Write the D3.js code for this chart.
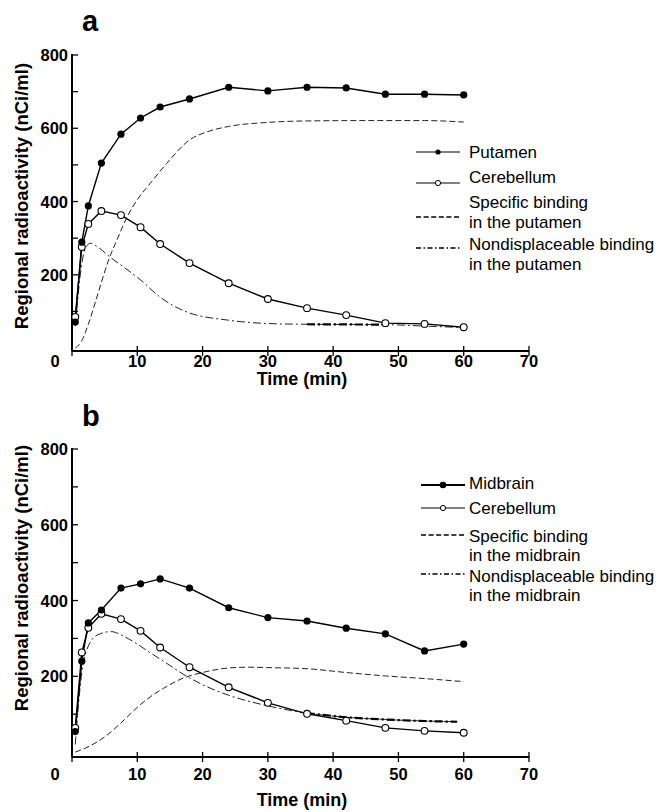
<!DOCTYPE html>
<html>
<head>
<meta charset="utf-8">
<script src="https://cdn.jsdelivr.net/npm/d3@7"></script>
<style>
  body { margin: 0; background: #fff; }
  svg { display: block; font-family: "Liberation Sans", Arial, sans-serif; }
</style>
</head>
<body>
<div id="chart"></div>
<script>
// sampling times (min) of the measured curves
var times = [0.5, 1.5, 2.5, 4.5, 7.5, 10.5, 13.5, 18, 24, 30, 36, 42, 48, 54, 60];

// panel a
var putamen     = [71, 289, 388, 505, 584, 628, 658, 680, 712, 702, 712, 710, 693, 693, 691];
var cerebellumA = [85, 276, 339, 374, 363, 330, 284, 232, 177, 134, 109, 90, 68, 66, 57];
var specATimes  = [0.5, 1.5, 2.5, 4, 5.5, 7, 8.5, 10, 12, 14.5, 18, 21, 24, 30, 36, 45, 54, 60];
var specA       = [0, 20, 65, 150, 235, 300, 360, 405, 450, 504, 568, 592, 605, 616, 620, 621, 621, 617];
var nondATimes  = [0.5, 1.5, 2, 2.8, 4, 6, 8, 10.5, 13.5, 17.5, 24, 30, 36, 48, 54, 60];
var nondA       = [60, 230, 270, 286, 275, 246, 220, 186, 139, 99, 76, 67, 65, 64, 60, 56];

// panel b
var midbrain    = [54, 240, 341, 375, 433, 444, 457, 433, 381, 355, 346, 327, 312, 267, 285];
var cerebellumB = [64, 263, 328, 365, 351, 320, 276, 224, 171, 130, 101, 83, 64, 56, 51];
var specBTimes  = [0.5, 2, 5, 8, 10, 12, 14, 17, 20, 24, 27, 30, 36, 42, 48, 54, 60];
var specB       = [0, 10, 40, 85, 118, 146, 168, 195, 210, 222, 224, 223, 220, 210, 201, 194, 186];
var nondBTimes  = [0.5, 1.5, 2.5, 4, 6, 8, 10, 12, 14, 17, 20, 24, 30, 36, 42, 48, 54, 59];
var nondB       = [20, 210, 280, 310, 318, 305, 285, 262, 240, 206, 178, 150, 122, 103, 92, 86, 82, 80];

var xTicks = [0, 10, 20, 30, 40, 50, 60, 70];
var yTicks = [100, 200, 300, 400, 500, 600, 700, 800];
var yLabels = [200, 400, 600, 800];

var legendA = ["Putamen", "Cerebellum", "Specific binding|in the putamen", "Nondisplaceable binding|in the putamen"];
var legendB = ["Midbrain", "Cerebellum", "Specific binding|in the midbrain", "Nondisplaceable binding|in the midbrain"];

var svg = d3.select("#chart").append("svg")
  .attr("width", 665)
  .attr("height", 812);

function zip(t, v) { return t.map(function(d, i) { return [d, v[i]]; }); }

function drawPanel(p) {
  var g = svg.append("g");
  var x = d3.scaleLinear().domain([0, 70]).range([72, 529]);
  var y = d3.scaleLinear().domain([p.yMin, 800]).range([p.bottom, p.top]);

  // panel letter
  g.append("text").attr("x", 82).attr("y", p.letterY)
    .style("font-size", "29px").style("font-weight", "bold").text(p.letter);

  // axes
  g.append("line").attr("x1", 72).attr("x2", 529).attr("y1", p.bottom).attr("y2", p.bottom)
    .attr("stroke", "#000").attr("stroke-width", 2);
  g.append("line").attr("x1", 72).attr("x2", 72).attr("y1", y(800) - 1).attr("y2", p.bottom)
    .attr("stroke", "#000").attr("stroke-width", 2);

  g.selectAll(".xt").data(xTicks).enter().append("line")
    .attr("x1", function(d) { return x(d); }).attr("x2", function(d) { return x(d); })
    .attr("y1", p.bottom - 5).attr("y2", p.bottom + 5)
    .attr("stroke", "#000").attr("stroke-width", 1.3);
  g.selectAll(".xl").data(xTicks.slice(1)).enter().append("text")
    .attr("x", function(d) { return x(d); }).attr("y", p.bottom + p.tickGap)
    .attr("text-anchor", "middle").style("font-size", "16.5px").style("font-weight", "bold")
    .text(function(d) { return d; });
  g.append("text").attr("x", 55).attr("y", p.bottom + p.tickGap)
    .attr("text-anchor", "middle").style("font-size", "16.5px").style("font-weight", "bold").text("0");

  g.selectAll(".yt").data(yTicks).enter().append("line")
    .attr("x1", 72).attr("x2", 78)
    .attr("y1", function(d) { return y(d); }).attr("y2", function(d) { return y(d); })
    .attr("stroke", "#000").attr("stroke-width", 1.3);
  g.selectAll(".yl").data(yLabels).enter().append("text")
    .attr("x", 68).attr("y", function(d) { return y(d) + 6; })
    .attr("text-anchor", "end").style("font-size", "16.5px").style("font-weight", "bold")
    .text(function(d) { return d; });

  g.append("text").attr("x", 302).attr("y", p.titleY)
    .attr("text-anchor", "middle").style("font-size", "18px").style("font-weight", "bold")
    .text("Time (min)");
  g.append("text")
    .attr("transform", "translate(28," + p.yTitleY + ") rotate(-90)")
    .attr("text-anchor", "middle").style("font-size", "18.5px").style("font-weight", "bold")
    .text("Regional radioactivity (nCi/ml)");

  var smooth = d3.line().x(function(d) { return x(d[0]); }).y(function(d) { return y(d[1]); })
    .curve(d3.curveMonotoneX);
  var straight = d3.line().x(function(d) { return x(d[0]); }).y(function(d) { return y(d[1]); });

  var spec = zip(p.specT, p.spec);
  var nond = zip(p.nondT, p.nond);
  g.append("path").attr("d", smooth(spec)).attr("fill", "none")
    .attr("stroke", "#222").attr("stroke-width", 1).attr("stroke-dasharray", "6,3");
  g.append("path").attr("d", smooth(nond)).attr("fill", "none")
    .attr("stroke", "#222").attr("stroke-width", 1).attr("stroke-dasharray", "8,3,2,3");
  // darker tail of the nondisplaceable curve
  g.append("path").attr("d", smooth(nond.filter(function(d) { return d[0] >= p.thickFrom && d[0] <= p.thickTo; })))
    .attr("fill", "none").attr("stroke", "#000").attr("stroke-width", 2.2).attr("stroke-dasharray", "8,3,2,3");

  var cer = zip(times, p.cer);
  var reg = zip(times, p.reg);
  g.append("path").attr("d", straight(cer)).attr("fill", "none").attr("stroke", "#000").attr("stroke-width", 1.4);
  g.append("path").attr("d", straight(reg)).attr("fill", "none").attr("stroke", "#000").attr("stroke-width", 1.4);
  g.selectAll(".oc").data(cer).enter().append("circle")
    .attr("cx", function(d) { return x(d[0]); }).attr("cy", function(d) { return y(d[1]); })
    .attr("r", 3.4).attr("fill", "#fff").attr("stroke", "#000").attr("stroke-width", 1.1);
  g.selectAll(".fc").data(reg).enter().append("circle")
    .attr("cx", function(d) { return x(d[0]); }).attr("cy", function(d) { return y(d[1]); })
    .attr("r", 3.6).attr("fill", "#000");

  // legend
  var L = p.legend;
  var lx1 = L.x1, lx2 = L.x1 + 44, tx = 469;
  g.append("line").attr("x1", lx1).attr("x2", lx2).attr("y1", L.lines[0]).attr("y2", L.lines[0])
    .attr("stroke", "#000").attr("stroke-width", L.boldFirst ? 2 : 1.2);
  g.append("circle").attr("cx", (lx1 + lx2) / 2).attr("cy", L.lines[0]).attr("r", L.boldFirst ? 3.3 : 2.6).attr("fill", "#000");
  g.append("line").attr("x1", lx1).attr("x2", lx2).attr("y1", L.lines[1]).attr("y2", L.lines[1])
    .attr("stroke", "#000").attr("stroke-width", 1.2);
  g.append("circle").attr("cx", (lx1 + lx2) / 2).attr("cy", L.lines[1]).attr("r", 2.6)
    .attr("fill", "#fff").attr("stroke", "#000").attr("stroke-width", 1);
  g.append("line").attr("x1", lx1).attr("x2", lx2).attr("y1", L.lines[2]).attr("y2", L.lines[2])
    .attr("stroke", "#000").attr("stroke-width", 1.6).attr("stroke-dasharray", "5,2.6");
  g.append("line").attr("x1", lx1).attr("x2", lx2).attr("y1", L.lines[3]).attr("y2", L.lines[3])
    .attr("stroke", "#000").attr("stroke-width", 1.6).attr("stroke-dasharray", "5,2.5,1.5,2.5");

  var k = 0;
  p.labels.forEach(function(lbl) {
    lbl.split("|").forEach(function(s) {
      g.append("text").attr("x", tx).attr("y", L.base[k]).style("font-size", "17px").text(s);
      k++;
    });
  });
}

drawPanel({
  letter: "a", letterY: 31, top: 55, bottom: 351, yMin: -8, tickGap: 16, titleY: 385, yTitleY: 196,
  reg: putamen, cer: cerebellumA, specT: specATimes, spec: specA, nondT: nondATimes, nond: nondA,
  thickFrom: 36, thickTo: 48,
  labels: legendA,
  legend: { x1: 416, lines: [152, 183, 217, 248], base: [158, 183, 208, 228, 250, 270], boldFirst: false }
});

drawPanel({
  letter: "b", letterY: 426, top: 449, bottom: 757, yMin: -13, tickGap: 23, titleY: 806, yTitleY: 578,
  reg: midbrain, cer: cerebellumB, specT: specBTimes, spec: specB, nondT: nondBTimes, nond: nondB,
  thickFrom: 36, thickTo: 59,
  labels: legendB,
  legend: { x1: 421, lines: [485, 508, 535, 574], base: [489, 514, 542, 561, 582, 601], boldFirst: true }
});
</script>
</body>
</html>
